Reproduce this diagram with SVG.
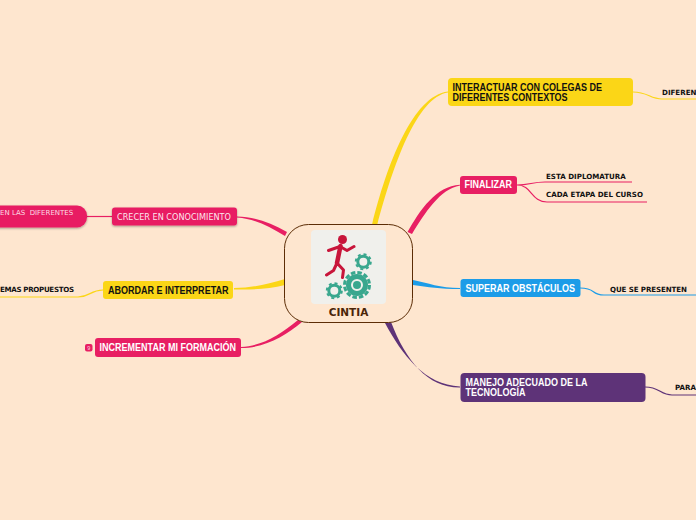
<svg xmlns="http://www.w3.org/2000/svg" width="696" height="520" viewBox="0 0 696 520">
<style>
.b{font-family:"Liberation Sans",Arial,sans-serif;font-size:10px;font-weight:700}
.w{fill:#fff}.k{fill:#111}
.s{font-family:"DejaVu Sans",sans-serif;font-size:7.1px;font-weight:700;fill:#111}
.l{fill:none;stroke-width:1.2}
</style>
<defs><filter id="sh" x="-10%" y="-20%" width="120%" height="150%"><feDropShadow dx="0" dy="1" stdDeviation="0.8" flood-color="#000" flood-opacity=".35"/></filter></defs>
<rect width="696" height="520" fill="#fee6cf"/>
<g id="connectors">
<path d="M372 225C387 164 413 95.500 448 91.500L448 92.500C417 97 393 165 377 226Z" fill="#fbd617"/>
<path d="M407.500 232C420 210 436 186 460 184.700L460 185.500C440 189 425 213 412 234Z" fill="#e81f63"/>
<path d="M413 280C428 283 440 288 460 288L460 289C440 289 428 287 413 285Z" fill="#1c9ce8"/>
<path d="M385 323C402 355 425 385 460 386.400L460 387.600C428 388 406 361 391 322Z" fill="#5e3378"/>
<path d="M287 232C270 222 255 217 237 216.500L237 217.500C255 219 268 226 285 236Z" fill="#e81f63"/>
<path d="M285 279C268 284 252 288 234 288L234 289.500C252 290 268 289 285 285Z" fill="#fbd617"/>
<path d="M298 320C280 335 262 346 241 347L241 348C265 348 285 336 302 322Z" fill="#e81f63"/>
<path class="l" stroke="#fbd617" d="M633 92C648 92 650 99 662 99H696"/>
<path class="l" stroke="#e81f63" d="M517 185C530 185 532 182 545 182H632M517 185C532 185 531 202 547 202H647"/>
<path class="l" stroke="#1c9ce8" d="M580 288C597 288 590 295 604 295H696"/>
<path class="l" stroke="#5e3378" d="M645 387C660 387 660 395 672 395H696"/>
<path class="l" stroke="#e81f63" d="M87 216.500H112"/>
<path class="l" stroke="#fbd617" d="M103 290C90 290 90 297 78 297H0"/>
</g>
<g id="center">
<rect x="284.500" y="224.500" width="128" height="98" rx="24" fill="#fee6cf" stroke="#5c2d06" stroke-width="1"/>
<rect x="311" y="230" width="75" height="74" rx="4" fill="#f0f0ec"/>
<circle cx="342.500" cy="239.500" r="4.500" fill="#c8153a"/>
<g fill="none" stroke="#c8153a" stroke-linecap="round" stroke-linejoin="round">
<path stroke-width="4.500" d="M340.500 246L337 263"/>
<path stroke-width="3" d="M328.500 250.500L340 246.500L347 250.500L354 246.500M337 263L333.500 270.500L326.500 275M337 263L343.500 270L342.500 277.500"/>
</g>
<g fill="none" stroke="#39a78e">
<circle cx="357" cy="285" r="4" fill="#39a78e" stroke="none"/>
<circle cx="357" cy="285" r="8.500" stroke-width="5"/>
<circle cx="357" cy="285" r="12.500" stroke-width="3" stroke-dasharray="4.500 2.040"/>
<circle cx="363.300" cy="261.700" r="5.500" stroke-width="3"/>
<circle cx="363.300" cy="261.700" r="7.500" stroke-width="2" stroke-dasharray="3 2.890"/>
<circle cx="334.300" cy="290.700" r="5.500" stroke-width="3"/>
<circle cx="334.300" cy="290.700" r="7.500" stroke-width="2" stroke-dasharray="3 2.890"/>
</g>
<text x="348.500" y="316" text-anchor="middle" font-family="'DejaVu Sans',sans-serif" font-size="10.500" font-weight="700" fill="#4a2508">CINTIA</text>
</g>
<g id="n1"><rect x="448" y="78" width="185" height="28" rx="4" fill="#fbd617"/><text class="b k" x="452.500" y="90.500" textLength="149.500" lengthAdjust="spacingAndGlyphs">INTERACTUAR CON COLEGAS DE</text><text class="b k" x="452.500" y="100.500" textLength="115" lengthAdjust="spacingAndGlyphs">DIFERENTES CONTEXTOS</text></g>
<g id="n1a"><text class="s" x="662" y="95">DIFEREN</text></g>
<g id="n2"><rect x="460" y="176" width="57" height="18" rx="3" fill="#e81f63"/><text class="b w" x="464.500" y="188" textLength="47.500" lengthAdjust="spacingAndGlyphs">FINALIZAR</text></g>
<g id="n2a"><text class="s" x="546" y="178.500">ESTA DIPLOMATURA</text></g>
<g id="n2b"><text class="s" x="546" y="197">CADA ETAPA DEL CURSO</text></g>
<g id="n3"><rect x="460.500" y="279" width="120" height="18" rx="3" fill="#1c9ce8"/><text class="b w" x="465.500" y="291.500" textLength="109.500" lengthAdjust="spacingAndGlyphs">SUPERAR OBSTÁCULOS</text></g>
<g id="n3a"><text class="s" x="610" y="291.500" textLength="77">QUE SE PRESENTEN</text></g>
<g id="n4"><rect x="460.500" y="373" width="185" height="29" rx="4" fill="#5e3378"/><text class="b w" x="465.500" y="385.500" textLength="122" lengthAdjust="spacingAndGlyphs">MANEJO ADECUADO DE LA</text><text class="b w" x="465.500" y="396" textLength="60" lengthAdjust="spacingAndGlyphs">TECNOLOGÍA</text></g>
<g id="n4a"><text class="s" x="675" y="390">PARA</text></g>
<g id="n5"><rect x="112" y="207.500" width="125" height="18" rx="3" fill="#e81f63" filter="url(#sh)"/><text x="117" y="219.500" font-family="'DejaVu Sans',sans-serif" font-size="8.200" fill="#fff" fill-opacity=".9" textLength="114" lengthAdjust="spacingAndGlyphs">CRECER EN CONOCIMIENTO</text></g>
<g id="n5a"><rect x="-20" y="205.500" width="107" height="22" rx="10" fill="#e81f63" filter="url(#sh)"/><text x="0" y="215" font-family="'DejaVu Sans',sans-serif" font-size="7" fill="#fff" fill-opacity=".85" xml:space="preserve">EN LAS  DIFERENTES</text></g>
<g id="n6"><rect x="103" y="281" width="130" height="18" rx="3" fill="#fbd617"/><text class="b k" x="108" y="293.500" textLength="120.500" lengthAdjust="spacingAndGlyphs">ABORDAR E INTERPRETAR</text></g>
<g id="n6a"><text class="s" x="0" y="292" textLength="74">EMAS PROPUESTOS</text></g>
<g id="n7"><rect x="95" y="338" width="146" height="19" rx="3" fill="#e81f63"/><text class="b w" x="99.500" y="350.500" textLength="136.500" lengthAdjust="spacingAndGlyphs">INCREMENTAR MI FORMACIÓN</text></g>
<g id="n7a"><rect x="85" y="344" width="7.500" height="7.500" rx="2" fill="#e81f63"/><text x="88.700" y="350" text-anchor="middle" font-family="'Liberation Sans',sans-serif" font-size="5.500" fill="#fff" fill-opacity=".8">9</text></g>
</svg>
